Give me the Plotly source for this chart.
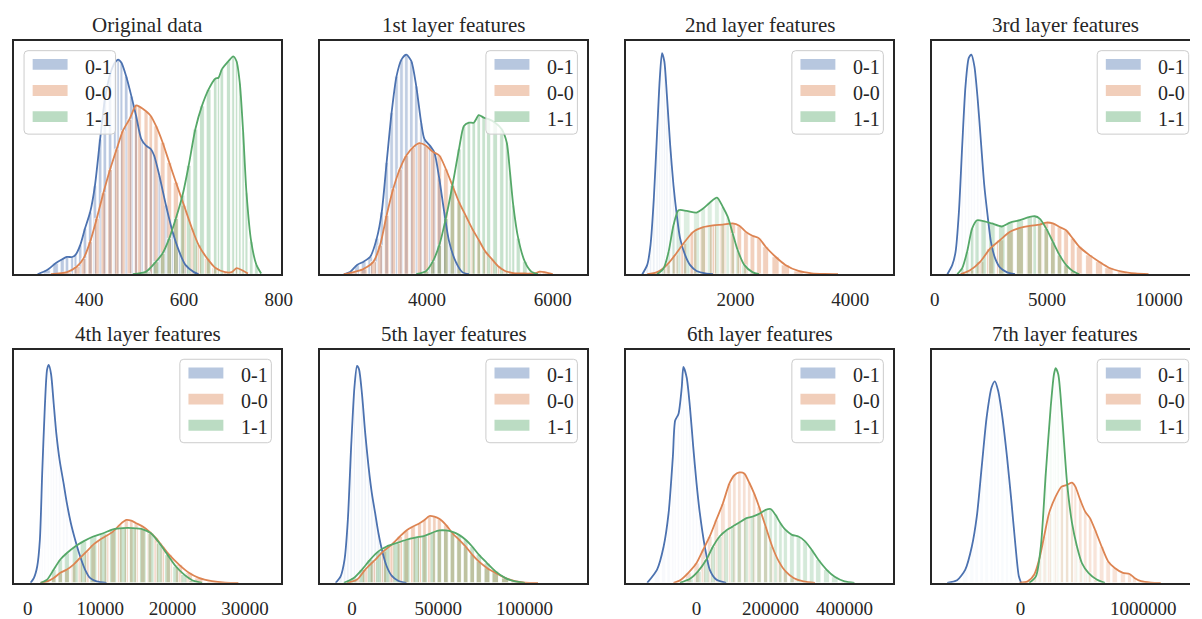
import numpy as np
import plotly.graph_objects as go

W, H = 1202, 619
FONT = "Liberation Serif, Times New Roman, serif"
TEXT = "#262626"
EDGE = "#262626"

titles = ["Original data", "1st layer features", "2nd layer features", "3rd layer features",
          "4th layer features", "5th layer features", "6th layer features", "7th layer features"]
labels = ["0-1", "0-0", "1-1"]
colors = ["#4C72B0", "#DD8452", "#55A868"]

# ---- Original data ----
p1_x01 = [291, 311, 329, 343, 353, 364, 371, 381, 391, 402, 412, 423, 433, 444, 454, 461, 468, 478, 489, 499, 510, 520, 530, 537, 548, 562, 576, 590, 603, 621, 631]
p1_y01 = [0, 1.8, 4.7, 6.4, 7.4, 7.4, 8.3, 12.5, 19.6, 26.7, 38, 58, 75, 85.8, 90.8, 92.2, 90.8, 85, 76.5, 68, 58, 55.2, 53.8, 51, 42.4, 29.6, 18.2, 9.7, 4, 0.9, 0]
p1_x00 = [319, 353, 374, 388, 402, 416, 430, 444, 458, 471, 485, 499, 506, 520, 530, 541, 555, 569, 583, 600, 617, 631, 649, 666, 687, 701, 711, 722, 735]
p1_y00 = [0, 0.9, 3.3, 6.8, 14, 24, 35, 45, 53.8, 61.6, 66.6, 72.5, 72, 70, 68, 63.7, 56.6, 48, 39.5, 29.6, 19.6, 12.5, 6.8, 2.8, 0.9, 0.9, 2.6, 1.8, 0.3]
p1_x11 = [492, 520, 541, 555, 569, 583, 597, 610, 624, 638, 652, 666, 673, 680, 694, 704, 711, 718, 725, 732, 742, 753, 763]
p1_y11 = [0, 1.1, 5.4, 9, 15.4, 24, 33.9, 46.7, 62.3, 72.3, 79.4, 84, 84.4, 88, 91.5, 93.6, 91.5, 82, 61, 35, 14, 4, 0.3]

# ---- 1st layer ----
p2_x01 = [2677, 2781, 2886, 2991, 3096, 3200, 3279, 3357, 3436, 3514, 3593, 3671, 3750, 3828, 3907, 3959, 4038, 4116, 4195, 4273, 4352, 4456, 4561, 4666]
p2_y01 = [0, 1.1, 4, 5.4, 7.5, 15.4, 26.7, 48, 69.4, 85, 92.2, 94.3, 91.5, 80.8, 65, 58, 55.5, 52.3, 41, 26.7, 14, 5.4, 0.9, 0]
p2_x00 = [2677, 2834, 2991, 3148, 3253, 3357, 3462, 3567, 3671, 3776, 3881, 3985, 4090, 4195, 4299, 4404, 4509, 4613, 4718, 4823, 4928, 5032, 5137, 5242, 5399, 5556, 5713, 5791, 5870, 6000]
p2_y00 = [0, 0.9, 2.3, 5.4, 12.5, 25.3, 36.7, 45.2, 51, 54.5, 56.3, 55.2, 52.6, 51, 45.2, 38.1, 31, 25.3, 19.6, 14.7, 9.7, 6.5, 3.3, 1.4, 0.4, 0.3, 0.3, 1.1, 0.9, 0]
p2_x11 = [3828, 3985, 4090, 4195, 4299, 4404, 4509, 4587, 4666, 4744, 4823, 4901, 4980, 5084, 5189, 5268, 5320, 5372, 5451, 5556, 5660, 5765]
p2_y11 = [0, 1.4, 5.4, 12.5, 24, 38.1, 53.8, 63.7, 65.1, 65.1, 68.3, 67.3, 66.6, 65.1, 62.3, 56.6, 43.8, 29.6, 15.4, 5.4, 1.1, 0]

# ---- 2nd layer ----
p3_x01 = [376, 462, 519, 577, 634, 680, 720, 760, 806, 863, 920, 978, 1035, 1121, 1207, 1322, 1494, 1608]
p3_y01 = [0, 4, 12.5, 32.4, 61, 83.6, 95, 91.5, 76.5, 55.2, 38.1, 25.3, 15.4, 8.3, 4, 1.4, 0.3, 0]
p3_x00 = [462, 634, 806, 949, 1093, 1265, 1437, 1608, 1780, 1952, 2067, 2182, 2296, 2411, 2526, 2698, 2870, 3099, 3328, 3558, 3787]
p3_y00 = [0, 0.9, 4, 8.3, 13.2, 18.2, 20.2, 21, 21.3, 21.8, 20.8, 18.2, 16.5, 15.4, 11.8, 7.5, 4, 1.4, 0.4, 0.1, 0]
p3_x11 = [634, 749, 835, 920, 1007, 1150, 1322, 1437, 1551, 1677, 1780, 1866, 1952, 2038, 2153, 2296, 2411]
p3_y11 = [0, 2.6, 9.7, 21, 27.5, 27.2, 26.5, 28.2, 30.7, 32.9, 28.9, 24.6, 17.5, 10.4, 4, 0.9, 0]

# ---- 3rd layer ----
p4_x01 = [560, 781, 928, 1075, 1222, 1369, 1516, 1633, 1766, 1913, 2060, 2207, 2354, 2501, 2692, 2913, 3207, 3575]
p4_y01 = [0, 4, 9.7, 26.7, 55.2, 80.8, 92.9, 94.3, 89.3, 75.1, 56.6, 38.1, 25.3, 14, 6.8, 2.8, 0.9, 0]
p4_x00 = [1148, 1589, 2030, 2472, 2913, 3354, 3795, 4236, 4677, 4972, 5266, 5560, 5854, 6148, 6442, 6883, 7324, 7766, 8354, 8942, 9530]
p4_y00 = [0, 1.8, 5.4, 11.1, 14.7, 18.2, 19.9, 20.8, 21.3, 22.2, 21.8, 20.3, 18.9, 15.4, 11.8, 8.3, 5.4, 2.8, 1.1, 0.3, 0]
p4_x11 = [1001, 1222, 1442, 1663, 1883, 2178, 2545, 2986, 3354, 3795, 4236, 4457, 4677, 4972, 5266, 5560, 5854, 6148, 6442]
p4_y11 = [0, 2.6, 9.7, 19.6, 23.2, 22.8, 21.8, 20.5, 22.2, 23.2, 24.6, 24.9, 23.9, 19.6, 13.9, 8.3, 4, 1.4, 0]

# ---- 4th layer ----
p5_x01 = [397, 852, 1307, 1671, 1990, 2354, 2673, 2901, 3219, 3584, 3948, 4403, 4950, 5405, 5952, 6543, 7226, 7909, 8592, 9503, 10868]
p5_y01 = [0, 2.1, 7.1, 18.5, 46.9, 75.4, 91.7, 93.6, 89.6, 76.8, 64, 52.6, 42.7, 34.1, 25.6, 18.5, 11.4, 5.7, 2.1, 0.6, 0]
p5_x00 = [1762, 2673, 3584, 4494, 5405, 6315, 7226, 8137, 9047, 9958, 10868, 11779, 12690, 13600, 14283, 14966, 15877, 16787, 17698, 18609, 19519, 20885, 22251, 23617, 25438, 27259, 29080]
p5_y00 = [0, 0.6, 2.1, 4.3, 5.7, 7.8, 10.7, 13.5, 16.4, 18.5, 20.2, 22, 24.9, 27, 26.7, 25.6, 24.2, 22, 19.2, 15.6, 12.1, 7.8, 4.3, 2.1, 0.7, 0.1, 0]
p5_x11 = [1762, 2673, 3584, 4494, 5405, 6543, 7681, 9047, 10413, 11779, 13145, 14511, 15877, 17015, 18153, 19291, 20429, 21568, 22706, 24072]
p5_y11 = [0, 1.4, 5.7, 10, 12.8, 15.6, 17.8, 19.9, 21.3, 23, 23.5, 23.5, 23, 21.3, 17.1, 12.1, 7.1, 3.6, 1.1, 0]

# ---- 5th layer ----
p6_x01 = [-9532, -6670, -4381, -2473, -565, 1343, 2870, 4014, 5732, 7640, 9548, 11456, 13364, 15272, 17752, 20042, 22904, 26720, 31490]
p6_y01 = [0, 2.8, 10, 27, 58.3, 83.9, 93.2, 91.7, 81.1, 64, 49.8, 38.4, 29.9, 21.3, 12.8, 7.1, 3.1, 0.9, 0]
p6_x00 = [-2854, 2870, 7640, 12410, 18134, 22904, 27674, 31490, 35306, 39122, 41984, 44846, 47708, 50570, 54386, 58202, 62018, 65834, 69650, 73466, 78237, 83007, 88730, 94454, 100178, 107810]
p6_y00 = [0, 1.4, 5.7, 9.2, 13.5, 16.4, 19.9, 22.5, 24.2, 25.6, 27, 28.7, 28.4, 27.5, 24.9, 21.3, 18.5, 15.6, 12.1, 9.2, 6.4, 4.3, 2.1, 0.7, 0.1, 0]
p6_x11 = [-4762, 963, 5732, 10502, 15272, 20042, 25766, 31490, 37214, 41984, 46754, 50570, 54386, 58202, 62018, 65834, 69650, 73466, 78237, 83007, 88730, 94454, 100178]
p6_y11 = [0, 2.1, 5.7, 10, 13.5, 15.6, 17.1, 18.5, 19.5, 20.2, 21.6, 22.5, 22.5, 21.9, 20.6, 18.5, 15.6, 12.1, 8.5, 5, 2.1, 0.6, 0]

# ---- 6th layer ----
p7_x01 = [-133350, -106680, -88900, -75565, -64008, -57785, -48895, -40005, -35560, -26670, -17780, -8890, 0, 8890, 22225, 35560, 53340, 80010]
p7_y01 = [0, 5.7, 15.6, 29.9, 54.1, 69.7, 72.5, 83.9, 92.7, 88.2, 75.4, 58.3, 42.7, 29.9, 15.6, 5.7, 1.4, 0]
p7_x00 = [-62230, -44450, -22225, 0, 17780, 35560, 53340, 71120, 88900, 102235, 115570, 128905, 142240, 155575, 168910, 186690, 204470, 222250, 240030, 262255, 288925, 320040]
p7_y00 = [0, 1.1, 4.3, 8.5, 14.2, 19.9, 27, 34.1, 42.7, 46.2, 47.4, 47, 43.1, 38.4, 32.7, 24.2, 15.6, 9.2, 5, 2.1, 0.6, 0]
p7_x11 = [-44450, -17780, 4445, 26670, 44450, 62230, 80010, 97790, 115570, 133350, 151130, 168910, 186690, 200025, 213360, 226695, 240030, 257810, 275590, 293370, 311150, 328930, 351155, 373380, 400050, 426720]
p7_y11 = [0, 1.7, 5, 10, 15.6, 19.9, 22.5, 24.2, 25.9, 27.7, 28.4, 29.6, 31.3, 31.7, 29.2, 25.6, 22.8, 20.6, 19.9, 17.8, 14.2, 10, 5.7, 2.6, 0.6, 0]

# ---- 7th layer ----
p8_x01 = [-596300, -516100, -449200, -395800, -355600, -315500, -275400, -235300, -208600, -181800, -147100, -109600, -74900, -40100, -13400, 5300]
p8_y01 = [0, 1.1, 5.7, 15.6, 28.4, 49.8, 71.1, 83.9, 86.5, 82.5, 71.1, 54.1, 35.6, 15.6, 2.8, 0]
p8_x00 = [-8000, 58800, 112300, 152400, 192500, 232600, 286100, 334300, 379700, 419800, 446600, 486700, 526800, 566900, 607000, 660500, 714000, 767400, 834300, 887800, 927900, 981400, 1061600, 1141800]
p8_y00 = [0, 0.6, 3.6, 10, 19.9, 29.9, 37, 41.3, 42.1, 43, 41.3, 35.6, 30.6, 27.7, 22.8, 15.6, 9.2, 6.4, 4.3, 3.8, 2.1, 0.7, 0.1, 0]
p8_x11 = [72200, 125700, 165800, 205900, 246000, 272700, 286100, 307500, 339600, 379700, 419800, 459900, 500000, 553500, 620400, 687200]
p8_y11 = [0, 2.8, 15.6, 46.9, 75.4, 89.6, 92.2, 89.6, 71.1, 42.7, 25.6, 15.6, 8.5, 4.3, 1.4, 0]

panels = [
    [(p1_x01, p1_y01), (p1_x00, p1_y00), (p1_x11, p1_y11)],
    [(p2_x01, p2_y01), (p2_x00, p2_y00), (p2_x11, p2_y11)],
    [(p3_x01, p3_y01), (p3_x00, p3_y00), (p3_x11, p3_y11)],
    [(p4_x01, p4_y01), (p4_x00, p4_y00), (p4_x11, p4_y11)],
    [(p5_x01, p5_y01), (p5_x00, p5_y00), (p5_x11, p5_y11)],
    [(p6_x01, p6_y01), (p6_x00, p6_y00), (p6_x11, p6_y11)],
    [(p7_x01, p7_y01), (p7_x00, p7_y00), (p7_x11, p7_y11)],
    [(p8_x01, p8_y01), (p8_x00, p8_y00), (p8_x11, p8_y11)],
]

x_ranges = [[241.5, 805.4], [2300, 6550], [95, 4750], [-146, 11380],
            [-1880, 35000], [-18500, 136400], [-190200, 531600], [-724000, 1380000]]
x_ticks = [[400, 600, 800], [4000, 6000], [2000, 4000], [0, 5000, 10000],
           [0, 10000, 20000, 30000], [0, 50000, 100000], [0, 200000, 400000], [0, 1000000]]

# histogram fill strength per panel and class (0-1, 0-0, 1-1)
bar_alpha = [[0.38, 0.38, 0.33], [0.35, 0.38, 0.33], [0.1, 0.38, 0.2], [0.04, 0.38, 0.3],
             [0.04, 0.34, 0.3], [0.1, 0.38, 0.33], [0.04, 0.25, 0.25], [0.03, 0.22, 0.05]]

# frame geometry (pixels)
col_left = [13.3, 322.7, 632.0, 940.7]
row_top = [41.7, 352.3]
FRAME_W, FRAME_H = 270.0, 234.3


def rgba(hexcol, a):
    h = hexcol.lstrip("#")
    r, g, b = int(h[0:2], 16), int(h[2:4], 16), int(h[4:6], 16)
    return f"rgba({r},{g},{b},{a})"


def px_x(v):
    return v / W


def px_y(v):
    return 1 - v / H


fig = go.Figure()
axes = {}
shapes = []
annotations = []

for i in range(8):
    r, c = divmod(i, 4)
    left = col_left[c]
    right_full = left + FRAME_W
    right = min(right_full, W)
    top = row_top[r]
    bottom = top + FRAME_H
    sfx = "" if i == 0 else str(i + 1)
    xa, ya = "x" + sfx, "y" + sfx

    axes["xaxis" + sfx] = dict(
        domain=[px_x(left), px_x(right)], anchor=ya, range=x_ranges[i],
        tickvals=x_ticks[i], tickformat="d", showgrid=False, zeroline=False,
        showline=True, mirror=True, linecolor=EDGE, linewidth=2, ticks="",
        tickfont=dict(family=FONT, size=19, color=TEXT), ticklabelstandoff=7,
        fixedrange=True)
    axes["yaxis" + sfx] = dict(
        domain=[px_y(bottom), px_y(top)], anchor=xa, range=[0, 100],
        showgrid=False, zeroline=False, showticklabels=False, showline=True,
        mirror=(c < 3), linecolor=EDGE, linewidth=2, ticks="", fixedrange=True)

    # histogram bars
    for s, (xs, ys) in enumerate(panels[i]):
        xs = np.asarray(xs, dtype=float)
        widths = np.gradient(xs) * 0.72
        fig.add_trace(go.Bar(
            x=xs, y=ys, width=widths, xaxis=xa, yaxis=ya,
            marker=dict(color=rgba(colors[s], bar_alpha[i][s]),
                        line=dict(color="white", width=0.8)),
            showlegend=False, hoverinfo="skip"))
    # density curves
    for s, (xs, ys) in enumerate(panels[i]):
        fig.add_trace(go.Scatter(
            x=xs, y=ys, mode="lines", xaxis=xa, yaxis=ya, name=labels[s],
            line=dict(color=colors[s], width=1.8, shape="spline", smoothing=0.7),
            showlegend=False, hoverinfo="skip"))

    # title
    annotations.append(dict(
        text=titles[i], x=px_x(left + FRAME_W / 2), y=px_y(top), xref="paper", yref="paper",
        xanchor="center", yanchor="bottom", yshift=2, showarrow=False,
        font=dict(family=FONT, size=21, color=TEXT)))

    # legend box
    LW, LH, GAP, RAD = 92.5, 84.0, 10.0, 4.0
    bx0 = left + GAP if i == 0 else right_full - GAP - LW
    bx1 = bx0 + LW
    by0 = top + 9.3
    by1 = by0 + LH
    x0, x1 = px_x(bx0), px_x(bx1)
    y0, y1 = px_y(by1), px_y(by0)
    rx, ry = RAD / W, RAD / H
    path = (f"M {x0+rx},{y1} L {x1-rx},{y1} Q {x1},{y1} {x1},{y1-ry} "
            f"L {x1},{y0+ry} Q {x1},{y0} {x1-rx},{y0} L {x0+rx},{y0} "
            f"Q {x0},{y0} {x0},{y0+ry} L {x0},{y1-ry} Q {x0},{y1} {x0+rx},{y1} Z")
    shapes.append(dict(type="path", path=path, xref="paper", yref="paper",
                       fillcolor="rgba(255,255,255,0.8)",
                       line=dict(color="#cccccc", width=1), layer="above"))
    for s in range(3):
        cy = by0 + 13.8 + s * 26.3
        shapes.append(dict(type="rect", xref="paper", yref="paper",
                           x0=px_x(bx0 + 8.7), x1=px_x(bx0 + 44.0),
                           y0=px_y(cy + 5.5), y1=px_y(cy - 5.5),
                           fillcolor=rgba(colors[s], 0.4), line=dict(width=0),
                           layer="above"))
        annotations.append(dict(
            text=labels[s], x=px_x(bx0 + 59.7), y=px_y(by0 + 16.0 + s * 26.3),
            xref="paper", yref="paper", xanchor="left", yanchor="middle",
            showarrow=False, font=dict(family=FONT, size=20, color=TEXT)))

fig.update_layout(
    width=W, height=H, margin=dict(l=0, r=0, t=0, b=0),
    paper_bgcolor="white", plot_bgcolor="white",
    barmode="overlay", showlegend=False, hovermode=False,
    shapes=shapes, annotations=annotations, **axes)

fig.write_html("out.html", config={"displayModeBar": False})
